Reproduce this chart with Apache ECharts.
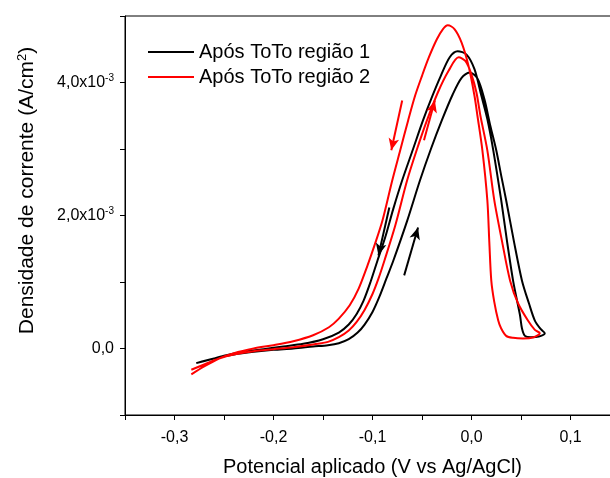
<!DOCTYPE html>
<html>
<head>
<meta charset="utf-8">
<script src="https://cdn.jsdelivr.net/npm/echarts@6/dist/echarts.min.js"></script>
<style>
html,body{margin:0;padding:0;background:#fff;}
#main{width:610px;height:478px;}
</style>
</head>
<body>
<div id="main"></div>
<script>
var seriesNames = ['Após ToTo região 1', 'Após ToTo região 2'];

// potencial (V), densidade de corrente (A/cm2)
var blackForward = [
    [-0.278,-0.22e-3],[-0.26,-0.15e-3],[-0.24,-0.09e-3],[-0.22,-0.05e-3],[-0.20,-0.02e-3],
    [-0.18,0.0],[-0.16,0.03e-3],[-0.145,0.05e-3],[-0.134,0.08e-3],[-0.124,0.14e-3],
    [-0.115,0.24e-3],[-0.108,0.36e-3],[-0.100,0.55e-3],[-0.093,0.78e-3],[-0.086,1.05e-3],
    [-0.079,1.32e-3],[-0.065,1.92e-3],[-0.052,2.53e-3],[-0.041,3.0e-3],[-0.030,3.43e-3],
    [-0.019,3.82e-3],[-0.010,4.07e-3],[-0.002,4.15e-3],[0.006,4.06e-3],[0.013,3.75e-3],
    [0.019,3.35e-3],[0.025,2.98e-3],[0.030,2.60e-3],[0.035,2.23e-3],[0.043,1.60e-3],
    [0.051,1.02e-3],[0.058,0.68e-3],[0.064,0.42e-3],[0.070,0.29e-3],[0.074,0.23e-3]
];
var blackReverse = [
    [0.068,0.18e-3],[0.060,0.17e-3],[0.054,0.19e-3],[0.051,0.30e-3],[0.049,0.50e-3],
    [0.046,0.72e-3],[0.042,1.02e-3],[0.036,1.60e-3],[0.030,2.23e-3],[0.022,2.98e-3],
    [0.016,3.45e-3],[0.010,3.80e-3],[0.003,4.20e-3],[-0.005,4.42e-3],[-0.014,4.47e-3],
    [-0.022,4.38e-3],[-0.031,4.10e-3],[-0.040,3.78e-3],[-0.049,3.43e-3],[-0.059,3.0e-3],
    [-0.070,2.53e-3],[-0.079,2.10e-3],[-0.087,1.68e-3],[-0.095,1.32e-3],[-0.102,1.0e-3],
    [-0.109,0.72e-3],[-0.116,0.52e-3],[-0.124,0.36e-3],[-0.134,0.24e-3],[-0.15,0.14e-3],
    [-0.17,0.07e-3],[-0.19,0.03e-3],[-0.21,-0.01e-3],[-0.23,-0.05e-3],[-0.25,-0.11e-3],
    [-0.265,-0.17e-3],[-0.278,-0.22e-3]
];
var redForward = [
    [-0.283,-0.32e-3],[-0.27,-0.24e-3],[-0.255,-0.15e-3],[-0.24,-0.09e-3],[-0.22,-0.04e-3],
    [-0.20,-0.01e-3],[-0.18,0.02e-3],[-0.16,0.06e-3],[-0.145,0.10e-3],[-0.134,0.17e-3],
    [-0.124,0.27e-3],[-0.116,0.40e-3],[-0.108,0.58e-3],[-0.100,0.82e-3],[-0.094,1.05e-3],
    [-0.088,1.32e-3],[-0.077,1.85e-3],[-0.065,2.53e-3],[-0.055,3.0e-3],[-0.045,3.43e-3],
    [-0.034,3.85e-3],[-0.023,4.18e-3],[-0.013,4.38e-3],[-0.006,4.32e-3],[0.0,4.12e-3],
    [0.005,3.85e-3],[0.009,3.50e-3],[0.016,2.98e-3],[0.023,2.23e-3],[0.031,1.60e-3],
    [0.039,1.02e-3],[0.047,0.68e-3],[0.057,0.42e-3],[0.064,0.28e-3],[0.069,0.23e-3]
];
var redReverse = [
    [0.063,0.17e-3],[0.052,0.15e-3],[0.042,0.16e-3],[0.035,0.19e-3],[0.030,0.30e-3],
    [0.027,0.42e-3],[0.023,0.70e-3],[0.020,1.02e-3],[0.018,1.60e-3],[0.016,2.23e-3],
    [0.011,2.98e-3],[0.006,3.50e-3],[0.003,3.80e-3],[-0.003,4.25e-3],[-0.010,4.60e-3],
    [-0.017,4.80e-3],[-0.024,4.86e-3],[-0.029,4.80e-3],[-0.035,4.65e-3],[-0.043,4.38e-3],
    [-0.050,4.10e-3],[-0.057,3.80e-3],[-0.064,3.43e-3],[-0.072,2.98e-3],[-0.080,2.53e-3],
    [-0.090,1.92e-3],[-0.098,1.55e-3],[-0.105,1.25e-3],[-0.114,0.90e-3],[-0.123,0.65e-3],
    [-0.134,0.45e-3],[-0.144,0.32e-3],[-0.16,0.20e-3],[-0.18,0.11e-3],[-0.20,0.05e-3],
    [-0.22,0.0],[-0.24,-0.07e-3],[-0.255,-0.15e-3],[-0.27,-0.27e-3],[-0.283,-0.39e-3]
];

// setas de sentido de varredura [inicio, fim]
var blackArrows = [
    [[-0.083,2.12e-3],[-0.094,1.40e-3]],
    [[-0.068,1.10e-3],[-0.054,1.82e-3]]
];
var redArrows = [
    [[-0.070,3.73e-3],[-0.081,2.98e-3]],
    [[-0.048,3.13e-3],[-0.037,3.73e-3]]
];

var xMin = -0.35, xMax = 0.15, xStep = 0.05;
var yMin = -1e-3, yMax = 5e-3, yStep = 1e-3;

var myChart = echarts.init(document.getElementById('main'));

function arrowData(list){
    return list.map(function(a){
        return [{coord:a[0]},{coord:a[1]}];
    });
}

var option = {
    animation: false,
    textStyle: { fontFamily: 'Liberation Sans, Arial, sans-serif' },
    grid: {
        left: 125,
        top: 16,
        bottom: 63,
        right: -10,
        outerBoundsMode: 'none',
        containLabel: false,
        show: true,
        borderColor: '#000',
        borderWidth: 1
    },
    legend: {
        orient: 'vertical',
        left: 148,
        top: 42,
        padding: 0,
        itemWidth: 46,
        itemHeight: 2,
        itemGap: 5,
        icon: 'rect',
        data: seriesNames,
        textStyle: { color: '#000', fontSize: 20 }
    },
    xAxis: {
        type: 'value',
        min: xMin,
        max: xMax,
        interval: xStep,
        name: 'Potencial aplicado (V vs Ag/AgCl)',
        nameLocation: 'middle',
        nameGap: 42,
        nameTextStyle: { color: '#000', fontSize: 20 },
        splitLine: { show: false },
        axisLine: { onZero: false, lineStyle: { color: '#000', width: 1 } },
        axisTick: { length: 5, lineStyle: { color: '#000' } },
        axisLabel: {
            color: '#000',
            fontSize: 16,
            margin: 15,
            formatter: function(v){
                var k = Math.round(v * 100);
                if (k % 10 !== 0) return '';
                return (k / 100).toFixed(1).replace('.', ',');
            }
        }
    },
    yAxis: {
        type: 'value',
        min: yMin,
        max: yMax,
        interval: yStep,
        name: '{a|Densidade de corrente (A/cm}{s|2}{a|)}',
        nameLocation: 'middle',
        nameGap: 86,
        nameTextStyle: {
            color: '#000',
            fontSize: 21,
            padding: [0, 0, 0, 50],
            rich: {
                a: { fontSize: 21, color: '#000' },
                s: { fontSize: 13, color: '#000', padding: [0, 0, 10, 0] }
            }
        },
        splitLine: { show: false },
        axisLine: { onZero: false, lineStyle: { color: '#000', width: 1 } },
        axisTick: { length: 5, lineStyle: { color: '#000' } },
        axisLabel: {
            color: '#000',
            fontSize: 16,
            margin: 11,
            formatter: function(v){
                var k = Math.round(v * 1e4);
                if (k % 20 !== 0) return '';
                if (k === 0) return '{m|0,0}';
                return '{m|' + (k / 10).toFixed(1).replace('.', ',') + 'x10}{s|-3}';
            },
            rich: {
                m: { fontSize: 16, color: '#000' },
                s: { fontSize: 10, color: '#000', padding: [0, 0, 8, 0] }
            }
        }
    },
    series: [
        {
            name: seriesNames[0],
            type: 'line',
            showSymbol: false,
            smooth: 0.3,
            color: '#000000',
            lineStyle: { width: 2, color: '#000000' },
            data: blackForward.concat(blackReverse),
            markLine: {
                silent: true,
                symbol: ['none', 'arrow'],
                symbolSize: [8, 12],
                label: { show: false },
                lineStyle: { type: 'solid', width: 2, color: '#000000' },
                data: arrowData(blackArrows)
            }
        },
        {
            name: seriesNames[1],
            type: 'line',
            showSymbol: false,
            smooth: 0.3,
            color: '#ff0000',
            lineStyle: { width: 2, color: '#ff0000' },
            data: redForward.concat(redReverse),
            markLine: {
                silent: true,
                symbol: ['none', 'arrow'],
                symbolSize: [8, 12],
                label: { show: false },
                lineStyle: { type: 'solid', width: 2, color: '#ff0000' },
                data: arrowData(redArrows)
            }
        }
    ]
};

myChart.setOption(option);
</script>
</body>
</html>
